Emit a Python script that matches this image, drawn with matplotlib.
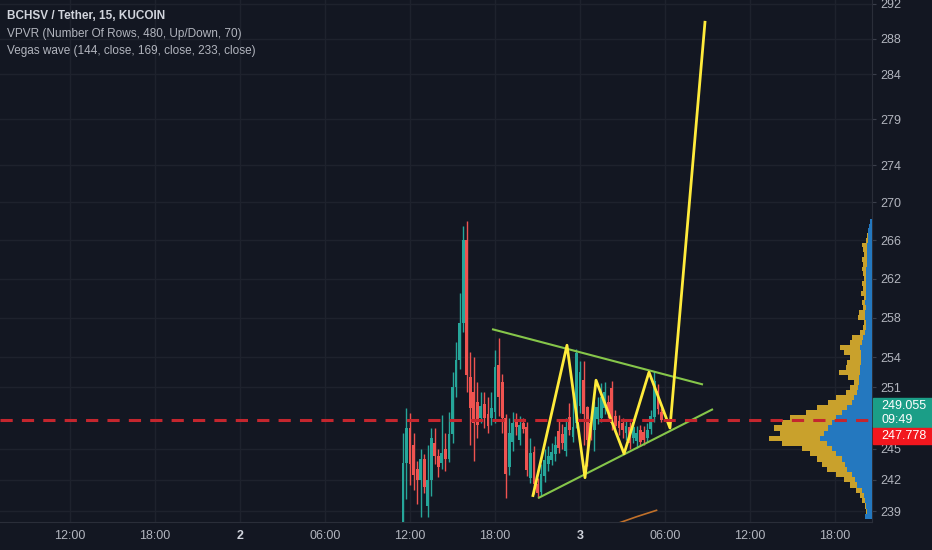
import matplotlib
matplotlib.use("Agg")
import matplotlib.pyplot as plt
from matplotlib.patches import Rectangle
from matplotlib.ticker import NullLocator, FixedLocator, FixedFormatter
import numpy as np

plt.rcParams['font.family'] = ['Liberation Sans', 'DejaVu Sans']

BG = "#131722"
GRID = "#1e222d"
TXT = "#b2b5be"
UP = "#26a69a"
DN = "#ef5350"

# 15-minute candles, first bar at day 2 11:30 (hours counted from day 1 00:00)
first_bar_hour = 35.5
opens = [237.0, 243.6, 247.0, 245.3, 243.0, 242.0, 244.0, 239.5, 242.0, 245.5,
         244.3, 243.6, 245.0, 244.0, 246.4, 251.0, 253.7, 257.5, 266.0, 252.0,
         250.5, 249.5, 248.0, 249.3, 248.4, 248.0, 248.6, 253.2, 251.5, 248.0,
         243.2, 245.6, 247.7, 245.8, 247.5, 247.1, 242.2, 244.7, 241.6, 240.8,
         242.4, 243.5, 243.9, 244.5, 246.7, 246.4, 244.8, 248.1, 246.1, 247.5,
         249.2, 251.7, 249.1, 247.5, 246.8, 247.9, 248.0, 249.0, 249.5, 250.9,
         248.2, 247.7, 247.5, 246.5, 247.1, 246.0, 245.7, 246.8, 246.6, 246.0,
         246.9, 248.1, 250.6, 248.6]
closes = [243.6, 247.0, 243.5, 242.5, 242.0, 244.0, 241.3, 242.0, 246.0, 244.3,
          243.2, 244.6, 244.0, 246.4, 251.0, 253.7, 257.5, 266.0, 252.2, 249.0,
          247.5, 247.3, 249.2, 248.0, 247.2, 249.0, 253.0, 250.0, 248.0, 242.6,
          246.5, 247.5, 247.1, 247.3, 246.9, 242.9, 244.6, 241.6, 240.7, 242.6,
          243.9, 244.3, 244.7, 245.3, 245.1, 245.5, 247.1, 246.8, 247.1, 254.4,
          252.5, 248.4, 245.8, 246.8, 249.1, 249.1, 250.0, 250.5, 248.5, 247.5,
          247.2, 247.0, 246.8, 247.2, 245.5, 247.1, 246.5, 245.6, 245.8, 246.8,
          248.2, 251.6, 248.9, 247.8]
highs = [246.5, 249.0, 248.5, 246.5, 243.8, 245.0, 244.5, 245.3, 247.0, 247.0,
         245.0, 248.3, 246.5, 248.6, 252.5, 255.5, 260.5, 267.5, 268.0, 254.5,
         254.0, 251.5, 250.5, 250.5, 250.0, 250.5, 254.7, 255.9, 252.3, 248.4,
         248.0, 248.6, 248.5, 248.2, 248.0, 247.6, 246.0, 245.2, 242.2, 243.5,
         245.0, 245.2, 245.5, 246.2, 247.8, 247.4, 248.0, 249.4, 250.5, 254.8,
         253.6, 253.6, 249.2, 248.2, 249.6, 250.0, 251.4, 251.5, 250.2, 251.6,
         248.8, 248.3, 248.0, 247.8, 247.6, 247.6, 247.2, 247.3, 247.2, 247.5,
         248.8, 252.6, 251.3, 249.0]
lows = [236.0, 240.2, 241.5, 241.0, 239.7, 238.5, 240.7, 238.5, 240.5, 243.5,
        242.3, 243.0, 242.8, 243.7, 245.5, 250.0, 252.8, 256.5, 250.5, 245.3,
        243.8, 246.0, 247.5, 247.0, 246.5, 247.3, 247.5, 248.2, 246.5, 240.3,
        242.5, 244.8, 246.3, 245.3, 246.5, 242.4, 241.7, 240.6, 240.3, 240.5,
        241.8, 242.8, 243.4, 243.8, 244.6, 245.0, 244.3, 246.3, 245.6, 247.0,
        248.5, 245.3, 243.3, 245.8, 244.8, 247.4, 247.6, 248.4, 248.0, 246.8,
        246.6, 246.3, 246.0, 245.8, 245.0, 245.5, 245.1, 245.2, 245.3, 245.6,
        246.4, 247.6, 248.4, 247.6]

# drawn pattern (hour, price)
zigzag_hours = [44.68, 47.08, 48.35, 49.13, 51.11, 52.87, 54.35, 56.82]
zigzag_prices = [240.5, 255.2, 242.2, 251.7, 244.5, 252.5, 247.0, 289.9]
upper_hours = [41.86, 56.61]
upper_prices = [256.8, 251.3]
lower_hours = [45.11, 57.32]
lower_prices = [240.3, 248.8]
vegas_hours = [50.3, 52.0, 53.4]
vegas_prices = [237.7, 238.5, 239.1]

last_price = 247.778

# visible range volume profile, rows of 0.5
vp_prices = np.arange(238.5, 268.01, 0.5)
vp_up = [7, 5, 6, 7, 8, 10, 15, 17, 20, 25, 27, 30, 36, 40, 45, 52, 48, 44, 40, 36,
         30, 25, 20, 18, 15, 14, 13, 13, 12, 12, 11, 11, 11, 12, 10, 9, 7, 6, 6, 7,
         7, 6, 7, 6, 6, 6, 6, 6, 6, 6, 5, 5, 5, 5, 5, 4, 4, 4, 3, 2]
vp_down = [0, 1, 1, 3, 4, 6, 7, 11, 16, 20, 23, 25, 26, 30, 45, 51, 44, 54, 50, 46,
           36, 30, 24, 18, 11, 8, 5, 11, 21, 14, 14, 11, 17, 20, 12, 11, 5, 3, 2, 7,
           6, 3, 3, 2, 5, 3, 4, 2, 3, 4, 4, 5, 3, 4, 5, 2, 1, 0, 0, 0]

yticks = [239, 242, 245, 251, 254, 258, 262, 266, 270, 274, 279, 284, 288, 292]
xtick_hours = [12, 18, 24, 30, 36, 42, 48, 54, 60, 66]
xtick_labels = ["12:00", "18:00", "2", "06:00", "12:00", "18:00", "3", "06:00", "12:00", "18:00"]

W, H = 932, 550
fig = plt.figure(figsize=(W / 100, H / 100), dpi=100, facecolor=BG)
ax = fig.add_axes([0, 28 / H, 872 / W, 522 / H], facecolor=BG)
ax.set_yscale("log")
ax.set_xlim(7.06, 68.61)

# candles
hours = first_bar_hour + 0.25 * np.arange(len(opens))
for t, o, c, h, l in zip(hours, opens, closes, highs, lows):
    col = UP if c >= o else DN
    ax.vlines(t, l, h, color=col, lw=1, zorder=3)
    ax.bar(t, max(abs(c - o), 0.12), bottom=min(o, c), width=0.2, color=col, zorder=3)

ax.plot(vegas_hours, vegas_prices, color="#c0702a", lw=1.2, zorder=3)
ax.plot(upper_hours, upper_prices, color="#86c64a", lw=1.5, zorder=4)
ax.plot(lower_hours, lower_prices, color="#86c64a", lw=1.5, zorder=4)
ax.plot(zigzag_hours, zigzag_prices, color="#ffeb3b", lw=2, zorder=5)

# volume profile on the right edge
ax2 = ax.twiny()
ax2.set_xlim(872, 0)
ax2.barh(vp_prices, vp_up, height=0.5, color="#2478bf", zorder=2)
ax2.barh(vp_prices, vp_down, left=vp_up, height=0.5, color="#c9a12c", zorder=2)
ax2.set_xticks([])
ax2.tick_params(axis="x", length=0)
for s in ax2.spines.values():
    s.set_visible(False)
ax2.axhline(last_price, color="#c4262e", lw=2.2, dashes=(4, 3), zorder=6)

# axes styling (after the twin so the log scale keeps these ticks)
ax.set_ylim(238.0, 292.46)
ax.yaxis.set_major_locator(FixedLocator(yticks))
ax.yaxis.set_major_formatter(FixedFormatter([str(t) for t in yticks]))
ax.yaxis.set_minor_locator(NullLocator())
ax.yaxis.tick_right()
ax.tick_params(axis="y", colors=TXT, labelsize=9, length=3, pad=3, color="#3a3e4a")
ax.set_xticks(xtick_hours)
ax.set_xticklabels(xtick_labels)
ax.tick_params(axis="x", colors=TXT, labelsize=9, length=0, pad=6)
for lab in ax.get_xticklabels():
    if lab.get_text() in ("2", "3"):
        lab.set_fontweight("bold")
        lab.set_color("#d1d4dc")
ax.grid(True, color=GRID, lw=1)
for s in ["top", "left"]:
    ax.spines[s].set_visible(False)
ax.spines["right"].set_color("#2a2e39")
ax.spines["bottom"].set_color("#2a2e39")

# header
fig.text(7 / W, 1 - 16 / H, "BCHSV / Tether, 15, KUCOIN", color="#d1d4dc",
         fontsize=8.5, fontweight="bold", va="center")
fig.text(7 / W, 1 - 34 / H, "VPVR (Number Of Rows, 480, Up/Down, 70)", color="#b2b5be",
         fontsize=8.5, va="center")
fig.text(7 / W, 1 - 51 / H, "Vegas wave (144, close, 169, close, 233, close)", color="#b2b5be",
         fontsize=8.5, va="center")

# price labels on the scale
fig.add_artist(Rectangle((873 / W, 1 - 427 / H), 59 / W, 29 / H, transform=fig.transFigure,
                         color="#1b9e87", zorder=10))
fig.add_artist(Rectangle((873 / W, 1 - 444 / H), 59 / W, 16 / H, transform=fig.transFigure,
                         color="#f2161e", zorder=10))
fig.text(881 / W, 1 - 406 / H, "249.055", color="white", fontsize=9, va="center", zorder=11)
fig.text(881 / W, 1 - 420 / H, "09:49", color="white", fontsize=9, va="center", zorder=11)
fig.text(881 / W, 1 - 436 / H, "247.778", color="white", fontsize=9, va="center", zorder=11)

fig.savefig("out.png", dpi=100, facecolor=BG)
